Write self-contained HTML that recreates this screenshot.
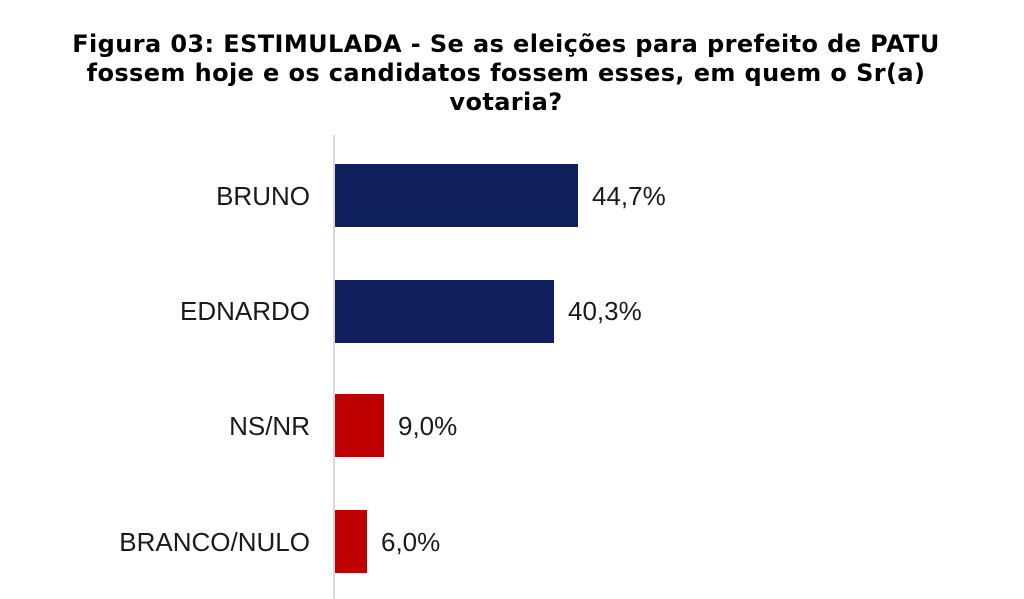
<!DOCTYPE html>
<html><head><meta charset="utf-8"><style>
body{margin:0;width:1024px;height:599px;background:#fff;overflow:hidden;position:relative;font-family:"Liberation Sans",Arial,sans-serif}
.t{position:absolute;left:0;width:1012px;text-align:center;font-family:"DejaVu Sans",Verdana,sans-serif;font-weight:bold;font-size:24px;letter-spacing:0.4px;color:#000;line-height:29px;top:30px;white-space:nowrap}
.ax{position:absolute;left:333px;top:135px;width:2px;height:464px;background:#d9d9d9}
.b{position:absolute;left:335px;height:63px}
.l{position:absolute;width:310px;left:0;text-align:right;font-size:26px;color:#1a1a1a;line-height:30px}
.v{position:absolute;font-size:26px;color:#1a1a1a;line-height:30px}
</style></head><body>
<div class="t">Figura 03: ESTIMULADA - Se as eleições para prefeito de PATU<br>fossem hoje e os candidatos fossem esses, em quem o Sr(a)<br>votaria?</div>
<div class="ax"></div>
<div class="b" style="top:164px;width:243px;background:#0e1f5b"></div>
<div class="b" style="top:280px;width:219px;background:#0e1f5b"></div>
<div class="b" style="top:394px;width:49px;background:#c00000"></div>
<div class="b" style="top:510px;width:32px;background:#c00000"></div>
<div class="l" style="top:181px">BRUNO</div>
<div class="l" style="top:296px">EDNARDO</div>
<div class="l" style="top:411px">NS/NR</div>
<div class="l" style="top:527px">BRANCO/NULO</div>
<div class="v" style="left:592px;top:181px">44,7%</div>
<div class="v" style="left:568px;top:296px">40,3%</div>
<div class="v" style="left:398px;top:411px">9,0%</div>
<div class="v" style="left:381px;top:527px">6,0%</div>
</body></html>
